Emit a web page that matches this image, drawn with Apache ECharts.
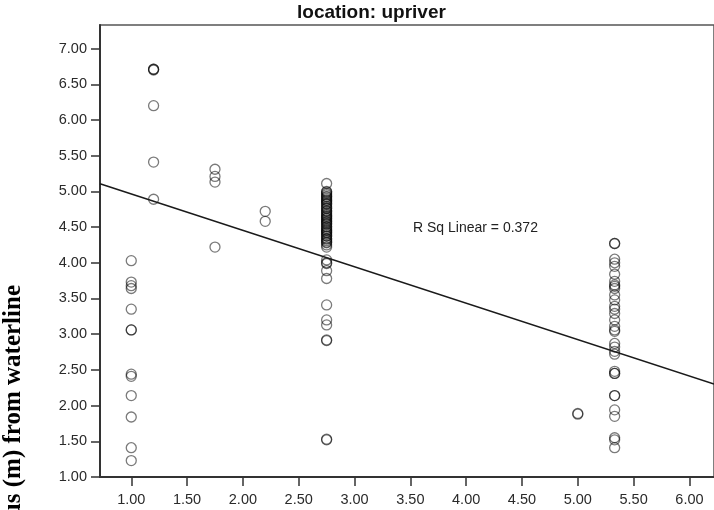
<!DOCTYPE html>
<html>
<head>
<meta charset="utf-8">
<script src="https://cdn.jsdelivr.net/npm/echarts@6/dist/echarts.min.js"></script>
<style>
	html, body { margin: 0; padding: 0; background: #fff; }
	#chart { width: 714px; height: 510px; }
</style>
</head>
<body>
<div id="chart"></div>
<script>
	// values, one list per x position
	var x1_00 = [4.03, 3.73, 3.68, 3.64, 3.35, 3.06, 3.06, 2.44, 2.41, 2.14, 1.84, 1.41, 1.23];
	var x1_20 = [6.71, 6.71, 6.70, 6.20, 5.41, 4.89];
	var x1_75 = [5.31, 5.21, 5.13, 4.22];
	var x2_20 = [4.72, 4.58];
	var x2_75 = [5.11, 5.00, 4.99, 4.97, 4.95, 4.93, 4.92, 4.90, 4.88, 4.87, 4.85, 4.83, 4.82, 4.79, 4.77,
		4.76, 4.73, 4.72, 4.70, 4.68, 4.66, 4.65, 4.63, 4.62, 4.60, 4.58, 4.57, 4.55, 4.54, 4.51,
		4.50, 4.48, 4.46, 4.45, 4.43, 4.42, 4.40, 4.38, 4.37, 4.34, 4.33, 4.31, 4.29, 4.28, 4.25,
		4.22, 4.04, 4.00, 3.99, 3.89, 3.78, 3.41, 3.20, 3.13, 2.92, 2.91, 1.53, 1.52];
	var x5_00 = [1.89, 1.88];
	var x5_33 = [4.27, 4.27, 4.05, 4.00, 3.95, 3.84, 3.74, 3.69, 3.67, 3.64, 3.55, 3.48, 3.39, 3.35, 3.29,
		3.20, 3.11, 3.06, 3.04, 2.87, 2.82, 2.76, 2.72, 2.48, 2.45, 2.45, 2.14, 2.14, 1.94, 1.85,
		1.55, 1.52, 1.41];

	var xTicks = [1.0, 1.5, 2.0, 2.5, 3.0, 3.5, 4.0, 4.5, 5.0, 5.5, 6.0];
	var yTicks = [1.0, 1.5, 2.0, 2.5, 3.0, 3.5, 4.0, 4.5, 5.0, 5.5, 6.0, 6.5, 7.0];

	// fitted line
	var fitX = [0.72, 6.22];
	var fitIntercept = 5.474;
	var fitSlope = -0.51;
	var rSqText = 'R Sq Linear = 0.372';

	var groups = [[1.00, x1_00], [1.20, x1_20], [1.75, x1_75], [2.20, x2_20], [2.75, x2_75], [5.00, x5_00], [5.33, x5_33]];
	var points = [];
	for(var i = 0; i < groups.length; i++){
		for(var j = 0; j < groups[i][1].length; j++)
			points.push([groups[i][0], groups[i][1][j]]);
	}
	var fitData = fitX.map(function(x){ return [x, fitIntercept + fitSlope * x]; });

	var labelFont = { fontFamily: 'Arial, "Liberation Sans", sans-serif', fontSize: 14.5, color: '#2a2a2a' };

	var chart = echarts.init(document.getElementById('chart'));
	chart.setOption({
		animation: false,
		grid: {
			left: 100, right: -2, top: 25, bottom: 33,
			show: true, borderColor: '#555', borderWidth: 1.5
		},
		xAxis: {
			type: 'value', min: fitX[0], max: fitX[1],
			splitLine: { show: false },
			axisLine: { lineStyle: { color: '#333', width: 2 } },
			axisTick: { customValues: xTicks, length: 9, lineStyle: { color: '#333', width: 1.5 } },
			axisLabel: $extend({ customValues: xTicks, margin: 15, formatter: function(v){ return v.toFixed(2); } }, labelFont)
		},
		yAxis: {
			type: 'value', min: 1, max: 7.33,
			splitLine: { show: false },
			axisLine: { lineStyle: { color: '#333', width: 2 } },
			axisTick: { customValues: yTicks, length: 9, lineStyle: { color: '#333', width: 1.5 } },
			axisLabel: $extend({ customValues: yTicks, margin: 13, formatter: function(v){ return v.toFixed(2); } }, labelFont)
		},
		series: [
			{
				type: 'scatter',
				data: points,
				symbol: 'circle',
				symbolSize: 10,
				itemStyle: { color: 'rgba(255,255,255,0)', borderColor: 'rgba(0,0,0,0.65)', borderWidth: 1.3 }
			},
			{
				type: 'line',
				data: fitData,
				symbol: 'none',
				lineStyle: { color: '#1a1a1a', width: 1.5 },
				z: 3
			}
		],
		graphic: [
			{
				type: 'text', left: 297, top: 3,
				style: { text: 'location: upriver', font: 'bold 19px Arial, "Liberation Sans", sans-serif', fill: '#111' }
			},
			{
				type: 'text', left: 413, top: 221,
				style: { text: rSqText, font: '14px Arial, "Liberation Sans", sans-serif', fill: '#222' }
			},
			{
				type: 'text', x: 14, y: 285, rotation: Math.PI / 2,
				style: {
					text: 'us (m) from waterline', font: 'bold 25px "Liberation Serif", "Times New Roman", serif',
					fill: '#000', textAlign: 'right', textVerticalAlign: 'middle'
				}
			}
		]
	});

	function $extend(a, b){
		for(var k in b) a[k] = b[k];
		return a;
	}
</script>
</body>
</html>
